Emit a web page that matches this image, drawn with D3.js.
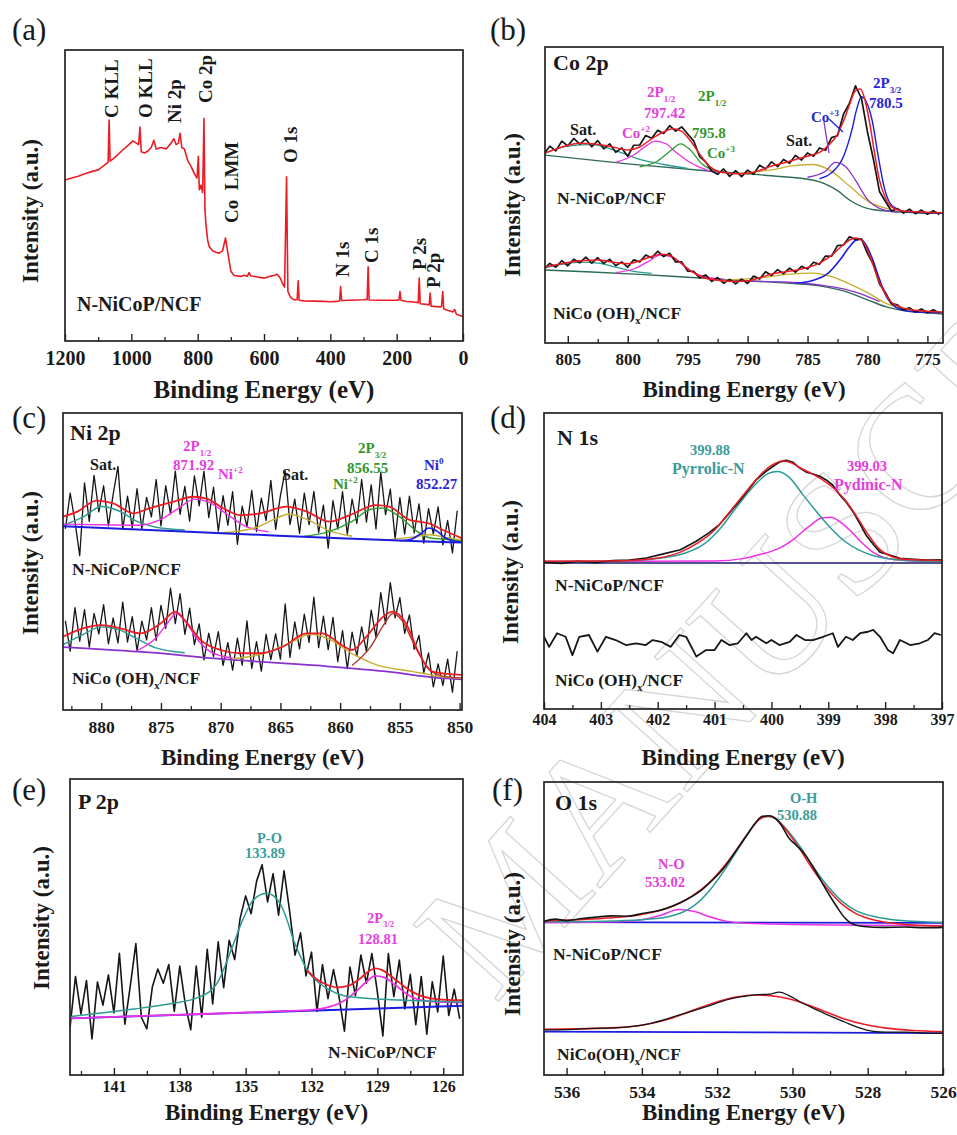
<!DOCTYPE html>
<html>
<head>
<meta charset="utf-8">
<script src="https://cdn.jsdelivr.net/npm/d3@7"></script>
<style>
  body { margin: 0; background: #fff; }
  svg { display: block; }
  svg text { font-family: "Liberation Serif", "Times New Roman", serif; }
</style>
</head>
<body>
<script>
// ---------- data (binding energy in eV, intensity in arbitrary units 0-100 of each frame) ----------

// (a) survey
var surveyTicks = [1200, 1000, 800, 600, 400, 200, 0];
var surveyMinor = [1100, 900, 700, 500, 300, 100];
var surveyData = [[1200,55.3],[1180,56],[1160,56.6],[1140,57.5],[1120,58.2],[1100,58.8],[1080,60.5],[1070,61.5],
  [1067,75.9],[1064,61.8],[1050,63],[1030,65.2],[1010,67.2],[995,68.8],[985,68],[978,67.5],[974,73.5],[970,65],
  [960,64.6],[950,65.3],[940,66.5],[932,69],[925,66],[910,66.5],[895,66],[880,68],[872,69.5],[865,67.5],[858,68],
  [853,71.4],[848,66.5],[840,66],[830,62],[820,60],[810,57.5],[802,56],[798,63.5],[795,52],[790,53.5],[785,51],
  [781,76.5],[778,45],[775,40],[770,34.7],[765,32.4],[755,31],[745,30.5],[735,30.2],[725,31],[716,35.4],[710,31],
  [700,24],[690,22.5],[670,22.2],[660,22.6],[650,22.3],[645,23.5],[640,22.4],[620,22],[600,21.6],[580,22.3],
  [570,22.5],[560,22.9],[550,21.5],[545,19.9],[538,18.5],[532,56.4],[528,17],[520,15],[510,14.2],[500,14.2],
  [497,20.7],[494,14],[480,13.8],[450,13.7],[420,13.6],[400,13.5],[380,13.6],[372,13.8],[369,18.7],[366,13.9],
  [340,14],[300,14.2],[289,14.3],[286,25.5],[283,14.1],[260,14],[230,14],[200,14],[193,14.2],[190,17],[187,14],
  [170,13.6],[150,13.4],[135,13.2],[132,21.6],[129,12.8],[110,12.6],[102,12.4],[99,16.5],[96,12],[80,11.8],
  [65,11.7],[61,17],[58,11],[45,10.5],[30,10],[25,10.8],[20,9.2],[10,8.8],[0,8.3]];
var surveyPeaks = [["C KLL",1067],["O KLL",974],["Ni 2p",853],["Co 2p",781],["Co  LMM",716],["O 1s",532],
  ["N 1s",369],["C 1s",286],["P 2s",132],["P 2p",99]];

// (b) Co 2p
var coTicks = [805, 800, 795, 790, 785, 780, 775];
var coMinor = [802.5, 797.5, 792.5, 787.5, 782.5, 777.5];
var coGrid = d3.range(807, 773.75, -0.5);
var coRawTop = [63.8,66.5,64.9,68.2,66.6,69.1,67.2,68.9,66.3,68.4, 65.6,67.3,64.4,65.9,63.1,66.8,66.9,70.1,69.2,71.9,
  70.8,73.4,71.6,73.0,70.6,68.3,63.0,61.2,58.1,57.0, 58.8,56.3,58.2,56.2,58.4,57.0,60.1,58.8,61.2,59.6,
  62.0,60.7,63.4,61.8,64.2,63.1,65.9,65.1,69.4,70.0, 77.3,81.0,86.9,82.6,71.3,62.0,51.2,47.8,44.6,45.4,
  43.9,45.2,43.7,44.9,43.5,44.7,43.4];
var coRawBot = [25.0,26.9,25.6,27.8,26.1,28.3,27.1,29.0,27.0,28.8, 26.9,28.3,26.1,27.4,25.6,28.1,27.4,29.7,28.8,31.0,
  29.2,30.3,27.4,27.4,24.3,24.2,22.0,23.0,20.8,22.1, 20.2,21.5,20.0,21.6,20.1,22.6,21.6,24.1,22.8,24.8,
  23.4,25.3,23.9,25.9,25.0,27.3,26.6,29.4,29.3,32.9, 33.1,35.9,35.0,35.2,30.3,26.5,20.0,17.0,13.3,12.9,
  11.2,11.9,10.5,11.5,10.2,11.2,10.1];
var coFitTop = [[807,64],[806,65.5],[805,66.8],[804,67.5],[803,67.3],[802,66.8],[801,66],[800,65.2],[799,66.2],[798,69],
  [797,71.3],[796.2,72.4],[795.5,71.5],[794.8,68.5],[794,63.8],[793.2,59.8],[792.3,57.8],[791,57.2],[790,57.3],
  [789,58.3],[788,59.8],[787,60.8],[786,62],[785,63.1],[784,64.4],[783.2,67],[782.5,70.5],[782,75],[781.5,80.5],
  [781,85.3],[780.6,85.8],[780.2,82],[779.8,74],[779.4,64],[779,55],[778.5,49],[778,46],[777.3,44.8],[776,44.3],[773.7,44]];
var coFitBot = [[807,25.6],[805.5,26.8],[804,27.8],[802.5,28],[801,27.2],[800,26.8],[799,27.8],[798,29.2],[797.3,30],
  [796.5,29.6],[795.7,27.5],[794.8,24.5],[793.8,22.3],[792.5,21.2],[791,20.8],[790,21],[789,22],[788,23.3],[787,24],
  [786,24.6],[785,25.5],[784,27],[783,29.6],[782.2,32.5],[781.5,34.8],[781,35.5],[780.5,34.8],[780,31.5],[779.5,26],
  [779,20.5],[778.5,16.5],[778,13.8],[777.3,12.2],[776,11.1],[773.7,10.5]];
var coBgTop = [[807,63.5],[800,60.5],[793,58],[788,56.5],[784.5,55],[782.5,51.5],[781.5,48.3],[779.5,45],[776,44],[773.7,43.8]];
var coSatTop = [[807,64],[805,66.5],[803,67],[801,65],[799,62],[797,60.3],[795,59]];
var coCo2p12Top = [[801,61],[799.5,63.5],[798.5,66.5],[797.7,68.2],[796.8,67.3],[796,64.5],[795,61.5],[793.5,58.6],[792,57.6]];
var coCo3p12Top = [[799,59.5],[797.5,61.5],[796.4,65],[795.6,67.3],[794.8,65.3],[793.8,60.5],[792.5,58.1],[791,57.4]];
var coSat2Top = [[791,57.3],[788,58.5],[786,60],[784.5,60.3],[783,58],[781.5,53],[780,48],[778,45]];
var coCo2p32Top = [[785,56],[783.5,58],[782.7,61],[781.8,59.5],[781,55],[780,48.5],[779,45.5],[777.5,44.2]];
var coCo3p32Top = [[784,55.5],[783,57.5],[782,63],[781.3,72],[780.9,79],[780.5,83.2],[780.1,81.5],[779.6,75],[779.1,63],
  [778.6,52.5],[777.9,46.2],[776.5,44.2],[773.7,43.8]];
var coBgBot = [[807,24.7],[803,24],[799,23.2],[795,22.2],[791,21.2],[787,20.3],[784,19.3],[782,17.6],[780,14.6],
  [778.5,12.3],[777,11],[775,10.2],[773.7,9.8]];
var coSatBot = [[807,25.3],[805.5,26.6],[804,27.3],[802.5,27],[801,25.6],[799.5,24.2],[798,23.5]];
var coCo2p12Bot = [[801,23.8],[799.5,25],[798.3,27.5],[797.3,29.7],[796.5,29.3],[795.6,27],[794.6,24],[793.5,22.3],[792,21.6]];
var coSat2Bot = [[792,21.2],[789,22],[786.5,23.3],[784.5,23.6],[783,22.4],[781.5,20],[780,17],[778.5,13.5],[777,11.4],[775,10.4],[773.7,10.1]];
var coCo2p32Bot = [[790,20.9],[787,20.6],[784,19.6],[782,18.3],[780.5,16.5],[779,14]];
var coCo3p32Bot = [[786,20.2],[784.5,21.2],[783.3,23.5],[782.3,28],[781.5,32.5],[781,34.6],[780.6,35],[780.1,33],
  [779.6,28.5],[779,21.5],[778.4,15.5],[777.7,12.3],[776.8,10.9],[775.5,10.4],[773.7,10.2]];

// (c) Ni 2p
var niTicks = [880, 875, 870, 865, 860, 855, 850];
var niMinor = [882.5, 877.5, 872.5, 867.5, 862.5, 857.5, 852.5];
var niGrid = d3.range(883, 850.1, -0.4);
var niRawTop = [61,73,63.5,52,76.5,63.5,79,66.7,75.5,62, 72.6,82,60.8,72,61.3,74.5,61,71.6,65,77.6,
  62,75.5,66,80.4,65.9,75.3,63.6,78.8,68.7,80.4, 64.8,75,60.2,72.2,62.2,73.5,55.8,68.6,61.7,73.9,
  60.1,71.3,63.8,77.3,60.8,72.2,80.5,62.4,71,59.5, 73,62.4,73.6,59.8,69,54.5,70.5,60.9,73.5,59.2,
  71,62.8,77.6,63.3,75.8,61,80,65.8,74.4,57.6, 71.5,59.2,72,59.6,69.4,56.2,67.8,59.2,68.4,55.6, 63.8,52.9,67.1];
var niRawBot = [30,19.8,34.5,23.2,33.8,21.2,32.5,25.6,35.5,22.3, 31,22.6,36.3,22.9,31.4,20,29.9,23.6,34.5,23.4,
  35.2,27.5,41,29.1,39.2,25.5,34.3,22,29,16.9, 25.9,18,26.4,15,22.7,13.4,24.2,15.1,30,14,
  23,13.1,25.5,17,25.6,17.1,35.7,17.7,29.7,20.6, 32.3,22.8,38,21,31.6,20.3,31.2,16.3,26.7,13.9,
  26.2,18.2,28,19.7,33.6,24.5,39.5,29,42.9,31, 37.8,25.8,32,20.4,25.1,12.5,19.2,7.8,15.5,8.3, 17.1,6,19.8];
var niFitTop = [[883.2,65.1],[882,66.8],[880.4,70.5],[879,69.6],[877.3,66.2],[876,67.9],[874,70.1],[872.3,71.8],
  [871.2,71.2],[869.5,67.3],[868.4,65.6],[866.7,66.2],[864.5,68.5],[862.8,66.8],[860.9,63.4],[859.2,65.6],[857,69],
  [855.9,68.5],[854.2,64],[853.4,63.4],[852.6,62.8],[851.4,60.6],[849.8,57.8]];
var niFitBot = [[883.2,24.7],[880,28.6],[878.4,27.5],[876.7,25.8],[875,29.2],[873.8,33.1],[872.8,29.2],[871.7,23.6],
  [870,20.2],[868.4,19.1],[866.7,19.1],[864.8,21.3],[862.8,25.8],[861.5,25.8],[859.8,21.7],[859,20.2],[857.8,24.7],
  [856.4,31.4],[855.6,33.1],[854.5,29.2],[853.4,19.1],[852.3,12.9],[849.8,11.8]];
var niBgTop = [[883.2,61.9],[876,60.6],[868,59.2],[860,57.8],[854,56.9],[849.8,56.4]];
var niNi0Top = [[855,57],[854,57.6],[853.2,59.5],[852.6,61.3],[852,60.5],[851.2,58],[850.4,56.8],[849.8,56.5]];
var niSat1Top = [[883.2,62.2],[881.5,65],[880,68.5],[878.5,67],[877,63.5],[875.5,61.6],[873,60.6]];
var niP12Top = [[883.2,62.6],[879,62.3],[877,62.2],[875,64.2],[873.5,68],[872.2,71],[871,70],[869.5,66],[868,62],[866,60]];
var niSat2Top = [[870,59.6],[867,61.5],[865.2,64.8],[864.3,66],[862.7,64],[861,60.5],[859,58.5]];
var niP32Top = [[863,58.5],[861,60],[859,63.5],[857.5,67.5],[856.5,68],[855,65],[853.5,60],[852.5,58],[851,57.4],[849.8,57]];
var niSat3Top = [[856,57.3],[854,58.2],[852.5,59],[851,58],[849.8,57.2]];
var niBgBot = [[883.2,21.2],[876,19.4],[870,17.2],[862,15],[856,12.9],[852,10.9],[849.8,10.3]];
var niSat1Bot = [[883.2,22],[881.5,25.5],[880,28],[878.5,27],[877,24],[875.5,21],[873,19.3]];
var niP12Bot = [[877,20],[875.5,24],[874.5,29],[873.7,32.5],[873,30],[872,24],[870.8,19.5],[869,17.5]];
var niSat2Bot = [[869,17.2],[866,19.5],[864,23],[862.5,25.5],[861,24],[859,19],[857,15.3],[854,13],[851,11],[849.8,10.6]];
var niP32Bot = [[859,15],[857.5,21],[856.3,29],[855.6,32.5],[854.8,30],[853.8,22],[852.8,15],[851.5,11.5],[849.8,10.8]];

// (d) N 1s
var nTicks = [404, 403, 402, 401, 400, 399, 398, 397];
var nMinor = [403.5, 402.5, 401.5, 400.5, 399.5, 398.5, 397.5];
var nRawTop = [[404,49.6],[403.7,49.2],[403.4,49.9],[403.1,49.4],[402.8,50.1],[402.5,50.3],[402.2,51],[401.9,52.4],
  [401.6,53.8],[401.33,56.6],[401.1,59.5],[400.91,62.4],[400.75,66],[400.56,70.3],[400.4,74.2],[400.27,77.4],
  [400.1,80.2],[399.97,82],[399.85,83.5],[399.74,84],[399.62,83.3],[399.5,81.4],[399.38,80],[399.27,79.4],
  [399.15,78.6],[399.03,77.3],[398.92,75.6],[398.8,72.4],[398.68,69.8],[398.56,66.5],[398.45,62.8],[398.33,58.6],
  [398.2,55.4],[398.09,53],[397.95,52.2],[397.74,50.9],[397.5,50.6],[397.25,50.3],[397,50.4]];
var nFitTop = [[404,49.9],[403,50],[402.5,50.2],[402,51],[401.6,53],[401.3,56],[401,60.5],[400.8,65],[400.6,69.8],
  [400.4,74.5],[400.2,79],[400,82.3],[399.8,83.8],[399.65,83.2],[399.5,81.5],[399.3,79.6],[399.1,77.4],[398.9,74.5],
  [398.7,70.5],[398.5,65],[398.3,59],[398.1,54],[397.9,51.6],[397.6,50.5],[397,50.2]];
var nPyrrolic = [[404,49.8],[402.5,50.1],[402,50.8],[401.5,52.8],[401.2,55.5],[400.9,61],[400.6,68.5],[400.3,75.5],
  [400.05,79.6],[399.9,80.2],[399.7,78.5],[399.45,72.5],[399.2,66.5],[398.95,61],[398.7,56.5],[398.45,53.6],
  [398.2,51.8],[397.9,50.7],[397.5,50.1],[397,49.9]];
var nPyridinic = [[404,49.8],[401,50],[400.5,50.8],[400.2,52.2],[399.9,54],[399.6,57.5],[399.35,61.5],[399.1,64.6],
  [398.95,64.8],[398.8,63.3],[398.6,60],[398.4,56],[398.2,52.8],[398,51],[397.6,50.1],[397,49.9]];
var nBase = [[404,49.3],[397,49.3]];
var nRawBot = [[404.0,24.4],[403.91,21.0],[403.77,25.6],[403.62,24.4],[403.5,18.2],[403.38,24.4],[403.21,25.0],
  [403.06,19.4],[402.91,24.4],[402.74,23.3],[402.56,21.6],[402.38,22.2],[402.21,21.6],[402.09,23.3],[401.94,22.7],
  [401.77,21.0],[401.62,25.0],[401.5,24.4],[401.32,17.7],[401.15,19.9],[401.0,19.9],[400.88,23.3],[400.74,21.6],
  [400.59,22.2],[400.44,25.6],[400.35,23.3],[400.27,24.4],[400.09,22.2],[400.0,23.3],[399.86,21.6],[399.68,22.7],
  [399.56,25.0],[399.41,23.3],[399.27,23.3],[399.09,24.4],[398.92,25.6],[398.83,21.0],[398.69,24.4],[398.57,23.3],
  [398.44,25.6],[398.3,26.1],[398.21,26.7],[398.09,24.4],[397.95,19.9],[397.86,18.8],[397.74,23.3],[397.56,21.6],
  [397.39,22.2],[397.25,23.3],[397.13,25.6],[397.02,25.0]];

// (e) P 2p
var pTicks = [141, 138, 135, 132, 129, 126];
var pMinor = [142.5, 139.5, 136.5, 133.5, 130.5, 127.5];
var pGrid = d3.range(143, 125.2, -0.25);
var pRaw = [16,33.3,20.6,31.9,12.2,31.4,23.6,33.8,21,41.1, 17.2,30.3,44.4,19.5,15.6,29.7,35.8,31,37.3,21.5,
  36.8,24,15.3,36.8,19.5,42.5,24,45,29.5,45.5, 39,53,60.5,54.5,65.5,71,58.5,68,54,69,
  55.5,40.5,48,33.5,41.5,21.5,37.3,25.8,35.6,26.6, 14.8,36.5,26.8,40.5,31,41,28,13.2,41,26.5,
  38.8,22.3,34,17,33.3,13.8,31.5,21.3,40.2,20.1, 29,19];
var pPO = [[143,19.7],[141.5,21],[140.1,22.3],[138.5,24],[137.1,26.4],[136.3,31],[135.6,43.4],[135.1,53],
  [134.65,59.1],[134.04,61.4],[133.43,58],[133.1,52],[132.82,45.6],[132.5,40],[132.21,35.5],[131.8,32],
  [131.3,29.3],[130.24,26.4],[128,25.3],[125.1,24.6]];
var pFit = [[132.21,35.5],[131.8,32.5],[131.3,30.5],[130.8,29.6],[130.3,30.2],[129.8,32.5],[129.4,35],[129.1,36],
  [128.8,35.5],[128.4,33.5],[128,31.2],[127.5,28.5],[127.1,27],[126.5,25.8],[125.8,25.4],[125.1,25.3]];
var pP32 = [[143,19.1],[140,19.9],[137,20.6],[134,21.4],[132,22],[131.2,23],[130.5,25.2],[130,28],[129.5,31.5],
  [129.1,33.5],[128.7,33],[128.2,30.5],[127.7,27.5],[127.2,25.6],[126.5,24.8],[125.1,24.5]];
var pBase = [[143,19.1],[125.1,23.4]];

// (f) O 1s
var oTicks = [536, 534, 532, 530, 528, 526];
var oMinor = [535, 533, 531, 529, 527];
var oRawTop = [[536.6,52.4],[536.3,53.2],[536,52.7],[535.6,53.4],[535.2,53.9],[534.8,54.3],[534.4,54.2],[534,55.1],
  [533.6,56],[533.2,57.6],[532.8,60],[532.4,63.3],[532.1,66.8],[531.8,71],[531.5,76.5],[531.2,82],[530.95,86.6],
  [530.8,88.3],[530.6,88.5],[530.45,87.6],[530.3,85.3],[530.1,81],[529.9,78.4],[529.7,75.8],[529.45,71],
  [529.2,65.3],[529,61],[528.8,57],[528.6,53.5],[528.4,51.5],[528.1,50.7],[527.6,50.4],[527,50.5],[526.5,50.3],[526,50.4]];
var oFitTop = [[536.6,52.6],[535,53.5],[534,54.8],[533.3,57],[532.7,60.8],[532.2,65.8],[531.8,71.5],[531.4,78.5],
  [531.1,84],[530.85,87.5],[530.65,88.3],[530.4,87],[530.1,82.5],[529.8,77],[529.5,71],[529.1,64],[528.7,58.5],
  [528.3,55],[527.8,52.8],[527.2,51.6],[526.5,51],[526,50.8]];
var oOH = [[536.6,52.3],[535,52.5],[534,53],[533.3,54],[532.7,57],[532.2,63],[531.8,70],[531.4,78],[531.1,84],
  [530.85,87.5],[530.65,88.2],[530.4,87],[530.1,83],[529.8,78],[529.5,72],[529.1,65],[528.7,59.5],[528.3,56],
  [527.8,54],[527.2,52.8],[526.5,52.3],[526,52.1]];
var oNO = [[536.6,52],[534.5,52.4],[534,53],[533.5,54.5],[533.02,56.5],[532.6,55.8],[532.2,54],[531.8,52.6],
  [531.2,51.8],[529,51.2],[526,51]];
var oBaseTop = [[536.6,52.2],[526,51.9]];
var oRawBot = [[536.6,15.4],[536,15.5],[535.3,15.9],[534.7,16.1],[534,17],[533.4,18.9],[532.8,21.3],[532.2,23.7],
  [531.7,25.8],[531.2,27],[530.9,27.4],[530.6,27.6],[530.35,28.3],[530.1,27.2],[529.8,25],[529.4,22.5],[529,20.2],
  [528.6,18],[528.2,16],[527.9,15],[527.5,14.6],[527,14.6],[526.5,14.3],[526,14.2]];
var oFitBot = [[536.6,15.6],[535,16],[534,17],[533.3,19],[532.7,21.8],[532.1,24.6],[531.5,26.6],[531,27.3],
  [530.6,27.1],[530.1,26],[529.6,24],[529.1,21.5],[528.6,19],[528.1,17.3],[527.5,16],[526.8,15.2],[526,14.8]];
var oBaseBot = [[536.6,14.8],[526,14.3]];

// ---------- drawing ----------
var FONT = "Liberation Serif, Times New Roman, serif";
var RED = "#ec1c24", BLACK = "#161616", TEAL = "#2b9c93", MAG = "#ee30e6", GREEN = "#2f9b2f",
    BLUE = "#1c1ce0", OLIVE = "#c4ae2c", PURPLE = "#8a32cc", DKGREEN = "#2d6b55", BROWN = "#b03a2a";
var TEALT = "#3a9c9c", MAGT = "#e53ee0", GREENT = "#34962c", BLUET = "#2626d6";

var svg = d3.select("body").append("svg")
    .attr("width", 957).attr("height", 1135)
    .attr("font-family", FONT).attr("font-weight", "bold");
var defs = svg.append("defs");

// faint watermark behind everything
svg.append("text")
    .attr("transform", "translate(495,1005) rotate(-48)")
    .attr("font-size", 175).attr("font-weight", "normal")
    .attr("fill", "none").attr("stroke", "#d6d6d6").attr("stroke-width", 1.3)
    .text("MANUSCRIPT");

function zip(grid, vals) {
  return vals.map(function(v, i) { return [grid[i], v]; });
}

function makePanel(p) {
  var x = d3.scaleLinear().domain(p.domain).range([p.left, p.right]);
  var y = d3.scaleLinear().domain([0, 100]).range([p.bottom, p.top]);
  var g = svg.append("g");
  defs.append("clipPath").attr("id", "clip-" + p.id)
    .append("rect").attr("x", p.left).attr("y", p.top)
    .attr("width", p.right - p.left).attr("height", p.bottom - p.top);
  var plot = g.append("g").attr("clip-path", "url(#clip-" + p.id + ")");

  var major = g.append("g").attr("transform", "translate(0," + p.bottom + ")")
    .call(d3.axisBottom(x).tickValues(p.ticks).tickSizeInner(-7).tickSizeOuter(0)
      .tickPadding(p.tickBase - p.bottom - 0.71 * p.tickSize)
      .tickFormat(d3.format("d")));
  major.attr("font-family", FONT).attr("font-size", p.tickSize).attr("font-weight", "bold");
  major.select(".domain").remove();
  major.selectAll("line").attr("stroke", "#222").attr("stroke-width", 1.4);
  major.selectAll("text").attr("fill", "#1a1a1a");

  var minor = g.append("g").attr("transform", "translate(0," + p.bottom + ")")
    .call(d3.axisBottom(x).tickValues(p.minor).tickSizeInner(-4).tickSizeOuter(0).tickFormat(""));
  minor.select(".domain").remove();
  minor.selectAll("line").attr("stroke", "#222").attr("stroke-width", 1.3);

  g.append("rect").attr("x", p.left).attr("y", p.top)
    .attr("width", p.right - p.left).attr("height", p.bottom - p.top)
    .attr("fill", "none").attr("stroke", "#222").attr("stroke-width", 1.7);

  g.append("text").attr("x", (p.left + p.right) / 2).attr("y", p.xlabelBase)
    .attr("text-anchor", "middle").attr("font-size", p.xlabelSize).attr("fill", "#1a1a1a")
    .text("Binding Energy (eV)");
  g.append("text").attr("transform", "translate(" + p.ylabelX + "," + p.ylabelY + ") rotate(-90)")
    .attr("dy", "0.35em").attr("text-anchor", "middle").attr("font-size", 23).attr("fill", "#1a1a1a")
    .text("Intensity (a.u.)");
  g.append("text").attr("x", p.letterX).attr("y", p.letterY)
    .attr("font-size", 31).attr("font-weight", "normal").attr("fill", "#1a1a1a")
    .text(p.letter);
  return { x: x, y: y, plot: plot, g: g };
}

function curve(P, data, color, width, smooth) {
  var line = d3.line()
    .x(function(d) { return P.x(d[0]); })
    .y(function(d) { return P.y(d[1]); })
    .curve(smooth ? d3.curveMonotoneX : d3.curveLinear);
  P.plot.append("path").datum(data).attr("d", line)
    .attr("fill", "none").attr("stroke", color).attr("stroke-width", width)
    .attr("stroke-linejoin", "round");
}

// text with optional sub / superscripts
function note(P, x, y, segs, size, color) {
  var t = P.g.append("text").attr("x", x).attr("y", y).attr("font-size", size).attr("fill", color);
  var shift = 0;
  segs.forEach(function(s) {
    var ts = t.append("tspan");
    if (typeof s === "string") {
      ts.attr("dy", -shift).text(s);
      shift = 0;
    } else {
      var d = s.sub !== undefined ? size * 0.3 : -size * 0.42;
      ts.attr("dy", d - shift).attr("font-size", size * 0.6).text(s.sub !== undefined ? s.sub : s.sup);
      shift = d;
    }
  });
}

// ---- (a) survey ----
var A = makePanel({ id: "a", left: 65, right: 463, top: 50, bottom: 341, domain: [1200, 0],
  ticks: surveyTicks, minor: surveyMinor, tickSize: 20, tickBase: 365,
  xlabelSize: 25, xlabelBase: 398, ylabelX: 30, ylabelY: 211, letter: "(a)", letterX: 12, letterY: 40 });
curve(A, surveyData, RED, 1.6, false);
var peakLabelPos = { "C KLL": [111, 118], "O KLL": [145, 118], "Ni 2p": [174, 123], "Co 2p": [205, 103],
  "Co  LMM": [231, 223], "O 1s": [290, 163], "N 1s": [342, 277], "C 1s": [371, 263], "P 2s": [419, 270], "P 2p": [433, 288] };
surveyPeaks.forEach(function(pk) {
  var pos = peakLabelPos[pk[0]];
  A.g.append("text").attr("transform", "translate(" + pos[0] + "," + pos[1] + ") rotate(-90)")
    .attr("dy", "0.35em").attr("font-size", 19).attr("fill", "#1a1a1a")
    .style("white-space", "pre").text(pk[0]);
});
note(A, 77, 311, ["N-NiCoP/NCF"], 20, "#1a1a1a");

// ---- (b) Co 2p ----
var B = makePanel({ id: "b", left: 545, right: 943, top: 47, bottom: 343, domain: [806.9, 773.7],
  ticks: coTicks, minor: coMinor, tickSize: 17, tickBase: 365,
  xlabelSize: 23, xlabelBase: 397, ylabelX: 512, ylabelY: 205, letter: "(b)", letterX: 490, letterY: 40 });
curve(B, coBgTop, DKGREEN, 1.4, true);
curve(B, coSatTop, TEAL, 1.3, true);
curve(B, coCo2p12Top, MAG, 1.3, true);
curve(B, coCo3p12Top, GREEN, 1.3, true);
curve(B, coSat2Top, OLIVE, 1.3, true);
curve(B, coCo2p32Top, PURPLE, 1.3, true);
curve(B, coCo3p32Top, BLUE, 1.4, true);
curve(B, zip(coGrid, coRawTop), BLACK, 1.7, false);
curve(B, coFitTop, RED, 1.5, true);
curve(B, coBgBot, DKGREEN, 1.4, true);
curve(B, coSatBot, TEAL, 1.3, true);
curve(B, coCo2p12Bot, MAG, 1.3, true);
curve(B, coSat2Bot, OLIVE, 1.3, true);
curve(B, coCo2p32Bot, PURPLE, 1.3, true);
curve(B, coCo3p32Bot, BLUE, 1.6, true);
curve(B, zip(coGrid, coRawBot), BLACK, 1.7, false);
curve(B, coFitBot, RED, 1.5, true);
note(B, 553, 70, ["Co 2p"], 22, "#1a1a1a");
note(B, 570, 135, ["Sat."], 16, "#1a1a1a");
note(B, 647, 97, ["2P", { sub: "1/2" }], 15, MAGT);
note(B, 644, 118, ["797.42"], 15, MAGT);
note(B, 622, 138, ["Co", { sup: "+2" }], 15, MAGT);
note(B, 698, 101, ["2P", { sub: "1/2" }], 15, GREENT);
note(B, 692, 138, ["795.8"], 15, GREENT);
note(B, 707, 158, ["Co", { sup: "+3" }], 15, GREENT);
note(B, 786, 146, ["Sat."], 16, "#1a1a1a");
note(B, 811, 122, ["Co", { sup: "+3" }], 15, BLUET);
note(B, 873, 88, ["2P", { sub: "3/2" }], 15, BLUET);
note(B, 869, 108, ["780.5"], 15, BLUET);
B.g.append("line").attr("x1", 824).attr("y1", 122).attr("x2", 829).attr("y2", 153)
  .attr("stroke", PURPLE).attr("stroke-width", 1.3);
B.g.append("line").attr("x1", 829).attr("y1", 119).attr("x2", 843).attr("y2", 132)
  .attr("stroke", BLUE).attr("stroke-width", 1.3);
note(B, 557, 204, ["N-NiCoP/NCF"], 17.5, "#1a1a1a");
note(B, 553, 319, ["NiCo (OH)", { sub: "x" }, "/NCF"], 17.5, "#1a1a1a");

// ---- (c) Ni 2p ----
var C = makePanel({ id: "c", left: 63, right: 462, top: 413, bottom: 710, domain: [883.2, 849.8],
  ticks: niTicks, minor: niMinor, tickSize: 17.5, tickBase: 733,
  xlabelSize: 23, xlabelBase: 765, ylabelX: 30, ylabelY: 563, letter: "(c)", letterX: 12, letterY: 428 });
curve(C, zip(niGrid, niRawTop), BLACK, 1.3, false);
curve(C, zip(niGrid, niRawBot), BLACK, 1.3, false);
curve(C, niSat1Top, TEAL, 1.4, true);
curve(C, niP12Top, MAG, 1.4, true);
curve(C, niSat2Top, OLIVE, 1.4, true);
curve(C, niP32Top, GREEN, 1.4, true);
curve(C, niSat3Top, OLIVE, 1.3, true);
curve(C, niBgTop, BLUE, 2, true);
curve(C, niNi0Top, BLUE, 1.6, true);
curve(C, niFitTop, RED, 1.8, true);
curve(C, niBgBot, PURPLE, 1.8, true);
curve(C, niSat1Bot, TEAL, 1.4, true);
curve(C, niP12Bot, MAG, 1.4, true);
curve(C, niSat2Bot, OLIVE, 1.4, true);
curve(C, niP32Bot, BROWN, 1.4, true);
curve(C, niFitBot, RED, 1.8, true);
note(C, 70, 440, ["Ni 2p"], 22, "#1a1a1a");
note(C, 90, 470, ["Sat."], 16, "#1a1a1a");
note(C, 183, 451, ["2P", { sub: "1/2" }], 15, MAGT);
note(C, 173, 470, ["871.92"], 15, MAGT);
note(C, 218, 479, ["Ni", { sup: "+2" }], 15, MAGT);
note(C, 282, 480, ["Sat."], 16, "#1a1a1a");
note(C, 358, 453, ["2P", { sub: "3/2" }], 15, GREENT);
note(C, 347, 473, ["856.55"], 15, GREENT);
note(C, 333, 489, ["Ni", { sup: "+2" }], 15, GREENT);
note(C, 424, 470, ["Ni", { sup: "0" }], 15, BLUET);
note(C, 416, 489, ["852.27"], 15, BLUET);
note(C, 72, 575, ["N-NiCoP/NCF"], 17.5, "#1a1a1a");
note(C, 72, 684, ["NiCo (OH)", { sub: "x" }, "/NCF"], 17.5, "#1a1a1a");

// ---- (d) N 1s ----
var D = makePanel({ id: "d", left: 544, right: 942, top: 413, bottom: 709, domain: [404, 397],
  ticks: nTicks, minor: nMinor, tickSize: 16, tickBase: 725,
  xlabelSize: 23, xlabelBase: 765, ylabelX: 510, ylabelY: 572, letter: "(d)", letterX: 490, letterY: 428 });
curve(D, nBase, "#1a1a6a", 1.6, false);
curve(D, nPyridinic, MAG, 1.5, true);
curve(D, nPyrrolic, TEAL, 1.5, true);
curve(D, nRawTop, BLACK, 1.7, false);
curve(D, nFitTop, RED, 1.5, true);
curve(D, nRawBot, BLACK, 1.8, false);
note(D, 557, 445, ["N 1s"], 22, "#1a1a1a");
note(D, 690, 455, ["399.88"], 14.5, TEALT);
note(D, 672, 474, ["Pyrrolic-N"], 16, TEALT);
note(D, 847, 471, ["399.03"], 14.5, MAGT);
note(D, 834, 490, ["Pydinic-N"], 16, MAGT);
note(D, 555, 591, ["N-NiCoP/NCF"], 17.5, "#1a1a1a");
note(D, 555, 686, ["NiCo (OH)", { sub: "x" }, "/NCF"], 17.5, "#1a1a1a");

// ---- (e) P 2p ----
var E = makePanel({ id: "e", left: 70, right: 463, top: 779, bottom: 1075, domain: [143, 125.1],
  ticks: pTicks, minor: pMinor, tickSize: 16, tickBase: 1092,
  xlabelSize: 23, xlabelBase: 1120, ylabelX: 41, ylabelY: 918, letter: "(e)", letterX: 12, letterY: 800 });
curve(E, zip(pGrid, pRaw), BLACK, 1.6, false);
curve(E, pBase, BLUE, 1.8, false);
curve(E, pP32, MAG, 1.8, true);
curve(E, pPO, TEAL, 1.5, true);
curve(E, pFit, RED, 1.8, true);
note(E, 78, 809, ["P 2p"], 22, "#1a1a1a");
note(E, 257, 843, ["P-O"], 14.5, TEALT);
note(E, 245, 858, ["133.89"], 14.5, TEALT);
note(E, 367, 923, ["2P", { sub: "3/2" }], 14.5, MAGT);
note(E, 358, 944, ["128.81"], 14.5, MAGT);
note(E, 328, 1058, ["N-NiCoP/NCF"], 17.5, "#1a1a1a");

// ---- (f) O 1s ----
var F = makePanel({ id: "f", left: 544, right: 943, top: 782, bottom: 1075, domain: [536.6, 526],
  ticks: oTicks, minor: oMinor, tickSize: 17.5, tickBase: 1098,
  xlabelSize: 23, xlabelBase: 1120, ylabelX: 512, ylabelY: 944, letter: "(f)", letterX: 492, letterY: 800 });
curve(F, oBaseTop, BLUE, 1.8, false);
curve(F, oNO, MAG, 1.5, true);
curve(F, oOH, TEAL, 1.5, true);
curve(F, oFitTop, RED, 1.5, true);
curve(F, oRawTop, BLACK, 1.6, true);
curve(F, oBaseBot, BLUE, 1.8, false);
curve(F, oFitBot, RED, 1.6, true);
curve(F, oRawBot, BLACK, 1.3, true);
note(F, 555, 810, ["O 1s"], 22, "#1a1a1a");
note(F, 790, 803, ["O-H"], 14.5, TEALT);
note(F, 777, 820, ["530.88"], 14.5, TEALT);
note(F, 658, 869, ["N-O"], 14.5, MAGT);
note(F, 645, 887, ["533.02"], 14.5, MAGT);
note(F, 553, 960, ["N-NiCoP/NCF"], 17.5, "#1a1a1a");
note(F, 557, 1060, ["NiCo(OH)", { sub: "x" }, "/NCF"], 17.5, "#1a1a1a");
</script>
</body>
</html>
